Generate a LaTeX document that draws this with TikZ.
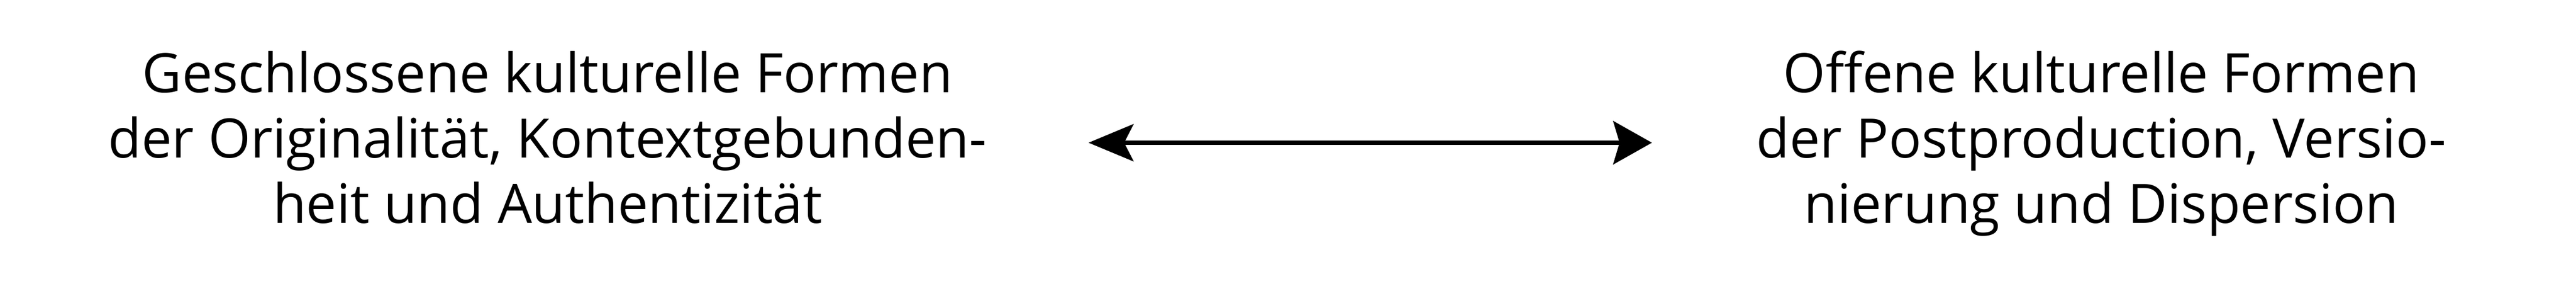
\documentclass[tikz,border=0pt]{standalone}
\usepackage{fontspec}
\setmainfont{Open Sans}
\usetikzlibrary{arrows.meta}

\begin{document}
\begin{tikzpicture}[
    formtext/.style={align=center, anchor=base, inner sep=0pt,
      font=\fontsize{19.8pt}{23.8pt}\selectfont}
  ]
    % fix the page to the size of the reference
    \useasboundingbox (0,0) rectangle (940pt,104.2pt);

    % the two kinds of cultural forms (anchor is the last line's baseline)
    \node[formtext] (closed) at (199.8pt,22.9pt)
      {Geschlossene kulturelle Formen\\der Originalität, Kontextgebunden-\\heit und Authentizität};
    \node[formtext] (open) at (766.8pt,22.9pt)
      {Offene kulturelle Formen\\der Postproduction, Versio-\\nierung und Dispersion};

    % ends of the double arrow between them
    \coordinate (tipL) at (397.2pt,52.2pt);
    \coordinate (tipR) at (602.8pt,52.2pt);

    % double arrow
    \draw[line width=1.67pt,
      {Stealth[length=16.4pt, width=13.5pt, inset=3.4pt]}-{Stealth[length=14.1pt, width=15.7pt, inset=2.3pt]}]
      (tipL) -- (tipR);

  \end{tikzpicture}
\end{document}
